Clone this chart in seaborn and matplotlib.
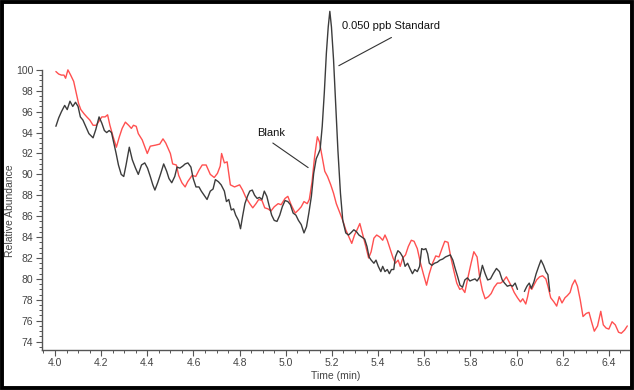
import numpy as np
import pandas as pd
import matplotlib
matplotlib.use("Agg")
import matplotlib.pyplot as plt
import seaborn as sns
from matplotlib.ticker import MultipleLocator, FixedLocator
from matplotlib.patches import Rectangle

# ---------------- data ----------------
blank_time = [4.004, 4.016, 4.028, 4.039, 4.046, 4.056, 4.068, 4.081, 4.091, 4.102, 4.112, 4.126, 4.138,
              4.151, 4.165, 4.179, 4.191, 4.203, 4.217, 4.228, 4.238, 4.252, 4.266, 4.279, 4.291, 4.305,
              4.319, 4.331, 4.340, 4.352, 4.361, 4.378, 4.400, 4.413, 4.436, 4.454, 4.468, 4.480, 4.500,
              4.510, 4.526, 4.536, 4.550, 4.564, 4.575, 4.594, 4.610, 4.624, 4.638, 4.655, 4.673, 4.690,
              4.704, 4.716, 4.722, 4.734, 4.746, 4.760, 4.778, 4.800, 4.813, 4.827, 4.844, 4.857, 4.871,
              4.883, 4.897, 4.909, 4.923, 4.936, 4.950, 4.967, 4.980, 4.997, 5.009, 5.023, 5.041, 5.055,
              5.067, 5.079, 5.093, 5.102, 5.114, 5.125, 5.137, 5.146, 5.160, 5.169, 5.181, 5.195, 5.207,
              5.219, 5.233, 5.247, 5.260, 5.272, 5.286, 5.298, 5.309, 5.321, 5.333, 5.347, 5.359, 5.370,
              5.382, 5.394, 5.408, 5.420, 5.430, 5.440, 5.452, 5.465, 5.475, 5.487, 5.496, 5.507, 5.519,
              5.531, 5.544, 5.556, 5.570, 5.584, 5.596, 5.610, 5.622, 5.636, 5.650, 5.664, 5.677, 5.689,
              5.703, 5.715, 5.727, 5.741, 5.754, 5.764, 5.776, 5.790, 5.803, 5.815, 5.829, 5.840, 5.852,
              5.864, 5.878, 5.890, 5.903, 5.917, 5.931, 5.943, 5.956, 5.966, 5.978, 5.990, 6.004, 6.017,
              6.027, 6.040, 6.048, 6.057, 6.066, 6.075, 6.087, 6.100, 6.113, 6.127, 6.136, 6.148, 6.162,
              6.174, 6.185, 6.197, 6.210, 6.220, 6.232, 6.241, 6.253, 6.264, 6.276, 6.288, 6.302, 6.314,
              6.325, 6.337, 6.351, 6.365, 6.376, 6.388, 6.400, 6.414, 6.428, 6.442, 6.454, 6.468, 6.480]
blank_vals = [99.84, 99.6, 99.5, 99.5, 99.2, 100.0, 99.5, 98.9, 97.9, 96.8, 96.2, 95.8, 95.5,
              95.2, 94.7, 94.7, 95.1, 95.5, 95.5, 95.7, 94.7, 93.6, 92.6, 93.6, 94.4, 95.0,
              94.7, 94.4, 94.7, 94.6, 93.9, 93.3, 92.0, 92.7, 92.8, 92.9, 93.4, 93.0, 92.0,
              91.0, 90.9, 89.9, 89.2, 88.8, 89.3, 89.9, 89.8, 90.4, 90.9, 90.9, 90.0, 89.7,
              90.1, 90.8, 92.0, 91.1, 91.2, 89.0, 88.8, 89.0, 88.5, 87.8, 87.2, 86.8, 87.2,
              87.6, 87.5, 86.8, 86.7, 86.5, 86.9, 87.2, 87.1, 87.7, 87.9, 87.1, 86.3, 86.6,
              86.9, 87.4, 87.2, 87.6, 89.3, 91.7, 93.6, 93.1, 91.4, 90.3, 89.8, 89.0, 88.2,
              87.2, 86.4, 85.6, 84.7, 84.1, 83.4, 84.2, 84.7, 85.3, 84.3, 83.1, 82.0, 82.6,
              83.9, 84.2, 84.0, 83.7, 84.2, 83.7, 82.9, 82.0, 81.5, 81.8, 81.2, 82.0, 82.3,
              83.1, 83.7, 83.6, 82.9, 81.5, 80.5, 79.4, 80.5, 81.5, 82.2, 82.1, 82.9, 83.6,
              83.5, 82.1, 80.9, 79.6, 79.0, 79.1, 78.7, 80.2, 81.5, 82.6, 82.1, 80.2, 78.9,
              78.1, 78.3, 78.6, 79.2, 79.6, 79.6, 79.8, 80.2, 79.8, 79.3, 78.7, 78.2, 77.8,
              78.1, 77.6, 78.3, 79.3, 79.0, 79.4, 79.9, 80.2, 80.3, 80.0, 79.3, 78.2, 77.8,
              77.4, 78.3, 77.7, 78.2, 78.4, 78.7, 79.4, 79.9, 79.3, 78.0, 76.4, 76.7, 76.8,
              75.9, 75.0, 75.5, 76.9, 75.6, 75.3, 75.2, 75.9, 75.6, 74.9, 74.8, 75.1, 75.5]

std_time = [4.004, 4.016, 4.028, 4.042, 4.053, 4.065, 4.077, 4.089, 4.100, 4.110, 4.121, 4.133, 4.147,
            4.165, 4.177, 4.191, 4.203, 4.214, 4.224, 4.235, 4.245, 4.252, 4.265, 4.275, 4.287, 4.298,
            4.308, 4.322, 4.335, 4.349, 4.361, 4.375, 4.389, 4.401, 4.413, 4.424, 4.433, 4.445, 4.457,
            4.471, 4.484, 4.494, 4.506, 4.519, 4.529, 4.541, 4.554, 4.564, 4.576, 4.589, 4.599, 4.611,
            4.624, 4.634, 4.659, 4.673, 4.685, 4.695, 4.708, 4.720, 4.734, 4.743, 4.753, 4.764, 4.774,
            4.783, 4.795, 4.804, 4.813, 4.823, 4.834, 4.844, 4.855, 4.865, 4.876, 4.886, 4.897, 4.907,
            4.918, 4.928, 4.939, 4.950, 4.962, 4.974, 4.985, 4.997, 5.009, 5.020, 5.032, 5.044, 5.055,
            5.067, 5.079, 5.090, 5.100, 5.111, 5.121, 5.132, 5.142, 5.149, 5.158, 5.167, 5.176, 5.184,
            5.191, 5.198, 5.207, 5.216, 5.226, 5.237, 5.247, 5.260, 5.272, 5.282, 5.295, 5.307, 5.317,
            5.330, 5.342, 5.352, 5.361, 5.370, 5.382, 5.391, 5.401, 5.412, 5.420, 5.430, 5.440, 5.449,
            5.458, 5.468, 5.475, 5.486, 5.496, 5.507, 5.517, 5.528, 5.538, 5.549, 5.559, 5.570, 5.580,
            5.589, 5.598, 5.607, 5.615, 5.622, 5.633, 5.645, 5.657, 5.668, 5.680, 5.692, 5.703, 5.713,
            5.724, 5.734, 5.745, 5.755, 5.766, 5.776, 5.787, 5.798, 5.808, 5.820, 5.829, 5.841, 5.852,
            5.864, 5.875, 5.887, 5.899, 5.913, 5.926, 5.938, 5.948, 5.960, 5.973, 5.983, 5.994, 6.004,
            6.019,
            6.034, 6.045, 6.055, 6.064, 6.075, 6.085, 6.096, 6.106, 6.117, 6.127, 6.136, 6.144]
std_vals = [94.6, 95.4, 96.0, 96.6, 96.2, 97.0, 96.5, 96.9, 96.5, 95.5, 95.2, 94.6, 93.9,
            93.5, 94.3, 95.5, 94.9, 94.2, 94.0, 94.2, 94.0, 93.3, 92.0, 90.9, 90.0, 89.8,
            90.9, 92.6, 91.4, 90.6, 90.0, 90.9, 91.1, 90.6, 89.8, 89.0, 88.5, 89.2, 90.0,
            91.0, 90.3, 89.6, 89.2, 89.8, 90.7, 90.6, 90.8, 91.0, 91.1, 90.7, 89.6, 88.8,
            88.8, 88.4, 87.6, 88.4, 88.6, 89.5, 89.3, 89.0, 88.4, 87.4, 87.6, 86.6, 86.7,
            86.1, 85.6, 84.8, 86.0, 87.2, 87.9, 88.4, 88.5, 88.0, 87.7, 87.8, 87.6, 88.4,
            87.9, 87.0, 86.1, 85.6, 85.5, 86.1, 86.9, 87.5, 87.4, 87.1, 86.3, 86.1, 85.6,
            85.2, 84.4, 85.0, 86.3, 87.9, 90.1, 91.5, 92.0, 92.4, 94.6, 97.8, 101.6, 104.1,
            105.6, 104.1, 101.0, 96.8, 92.3, 88.2, 85.6, 84.4, 84.2, 84.4, 84.7, 84.5, 84.2,
            84.0, 83.8, 83.1, 82.1, 81.8, 81.5, 81.8, 81.2, 80.7, 81.2, 80.7, 80.9, 80.5,
            80.9, 80.9, 82.1, 82.7, 82.5, 82.1, 81.2, 81.5, 81.0, 80.5, 80.9, 80.7, 81.2,
            82.9, 82.8, 82.9, 82.4, 81.5, 81.3, 81.5, 81.6, 81.8, 81.9, 82.1, 82.2, 82.3,
            81.8, 81.0, 80.2, 79.4, 79.2, 79.9, 80.1, 79.8, 79.9, 80.0, 79.8, 80.2, 81.3,
            80.5, 79.9, 80.0, 80.5, 81.0, 80.7, 79.9, 79.6, 79.3, 79.4, 79.3, 79.6, 79.0,
            np.nan,
            78.8, 79.3, 79.6, 79.1, 79.7, 80.5, 81.2, 81.8, 81.3, 80.7, 80.4, 78.8]

x_ticks = [4.0, 4.2, 4.4, 4.6, 4.8, 5.0, 5.2, 5.4, 5.6, 5.8, 6.0, 6.2, 6.4]
y_ticks = [74, 76, 78, 80, 82, 84, 86, 88, 90, 92, 94, 96, 98, 100]

# ---------------- plot ----------------
sns.set_theme(style="ticks")
plt.rcParams['font.family'] = ['Liberation Sans', 'DejaVu Sans']

fig = plt.figure(figsize=(6.34, 3.90), dpi=100)
ax = fig.add_axes([0.0656, 0.1026, 0.9264, 0.8844])

red = '#FF5050'
dark = '#3C3C3C'

df_blank = pd.DataFrame({'t': blank_time, 'v': blank_vals})
sns.lineplot(data=df_blank, x='t', y='v', ax=ax, color=red, lw=1.0,
             estimator=None, sort=False)

df_std = pd.DataFrame({'t': std_time, 'v': std_vals})
valid = df_std['v'].notna()
seg_id = (~valid).cumsum()
for _, seg in df_std[valid].groupby(seg_id[valid]):
    sns.lineplot(data=seg, x='t', y='v', ax=ax, color=dark, lw=1.0,
                 estimator=None, sort=False)

ax.set_xlim(3.942, 6.487)
ax.set_ylim(73.2, 106.2)
ax.set_xticks(x_ticks)
ax.set_xticklabels([f"{t:.1f}" for t in x_ticks])
ax.set_yticks(y_ticks)
ax.set_yticklabels([str(v) for v in y_ticks])
ax.xaxis.set_minor_locator(MultipleLocator(0.05))
ax.yaxis.set_minor_locator(FixedLocator(list(np.arange(73.5, 100.01, 0.5))))

for s in ['top', 'right']:
    ax.spines[s].set_visible(False)
ax.spines['left'].set_bounds(73.2, 100)
for s in ['left', 'bottom']:
    ax.spines[s].set_color('#555555')
    ax.spines[s].set_linewidth(1.0)

ax.tick_params(axis='both', which='major', length=4, width=0.8, color='#555555',
               labelsize=7.5, labelcolor='#444444', pad=2)
ax.tick_params(axis='both', which='minor', length=2.5, width=0.7, color='#555555')

ax.set_xlabel('Time (min)', fontsize=7.5, color='#444444', labelpad=2)
ax.set_ylabel('Relative Abundance', fontsize=7.5, color='#444444')
ax.yaxis.set_label_coords(-0.046, 0.405)

# annotations
ax.text(5.242, 104.2, '0.050 ppb Standard', fontsize=8, color='#111111',
        ha='left', va='center')
ax.plot([5.458, 5.23], [103.1, 100.4], color='#333333', lw=0.8)
ax.text(4.878, 94.0, 'Blank', fontsize=8, color='#111111', ha='left', va='center')
ax.plot([4.944, 5.097], [93.0, 90.65], color='#333333', lw=0.8)

# outer border
fig.patches.append(Rectangle((0.0025, 0.004), 0.995, 0.992, transform=fig.transFigure,
                             fill=False, edgecolor='black', lw=2.8, zorder=10))

fig.savefig('out.png', dpi=100)
